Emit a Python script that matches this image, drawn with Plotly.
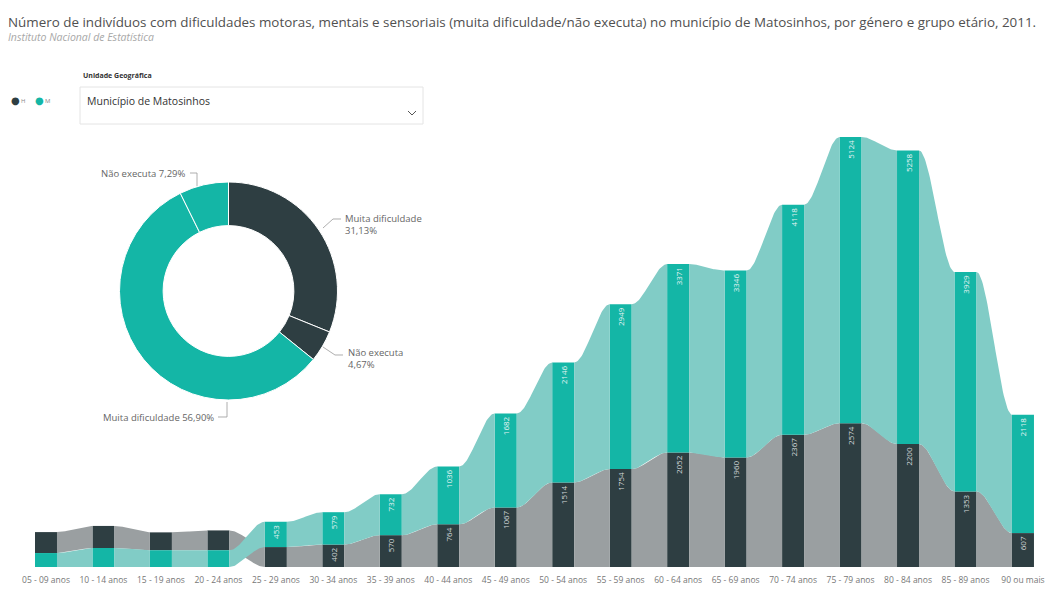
import numpy as np
import plotly.graph_objects as go

# Age groups and counts (muita dificuldade / não executa), Matosinhos 2011
grupos = ["05 - 09 anos", "10 - 14 anos", "15 - 19 anos", "20 - 24 anos", "25 - 29 anos",
          "30 - 34 anos", "35 - 39 anos", "40 - 44 anos", "45 - 49 anos", "50 - 54 anos",
          "55 - 59 anos", "60 - 64 anos", "65 - 69 anos", "70 - 74 anos", "75 - 79 anos",
          "80 - 84 anos", "85 - 89 anos", "90 ou mais"]
homens = [375, 395, 320, 355, 357, 402, 570, 764, 1067, 1514, 1754, 2052, 1960, 2367, 2574, 2200, 1353, 607]
mulheres = [250, 340, 300, 300, 453, 579, 732, 1036, 1682, 2146, 2949, 3371, 3346, 4118, 5124, 5258, 3929, 2118]

# Donut: share by gender and type of difficulty
fatias = ["Muita dificuldade (H)", "Não executa (H)", "Muita dificuldade (M)", "Não executa (M)"]
percentagens = [31.13, 4.67, 56.90, 7.29]

DARK = "#2E3E42"
TEAL = "#14B6A6"
DARK_RIB = "#9A9FA1"
TEAL_RIB = "#81CCC6"

W, H = 1049, 590
M_T, M_B = 130, 23
PLOT_H = H - M_T - M_B

x = np.arange(len(grupos))
bar_w = 0.383
series = {"H": np.array(homens, float), "M": np.array(mulheres, float)}
colors = {"H": (DARK, DARK_RIB), "M": (TEAL, TEAL_RIB)}

# Ribbon ordering: the larger value sits on top in each age group
base = {k: np.zeros(len(grupos)) for k in series}
for i in range(len(grupos)):
    order = sorted(series, key=lambda k: series[k][i])
    acc = 0.0
    for k in order:
        base[k][i] = acc
        acc += series[k][i]

fig = go.Figure()

# Ribbons between consecutive bars
u = np.linspace(0, 1, 40)
s = u * u * (3 - 2 * u)
for k in ["H", "M"]:
    lo, hi = base[k], base[k] + series[k]
    for i in range(len(grupos) - 1):
        x0, x1 = x[i] + bar_w / 2, x[i + 1] - bar_w / 2
        xs = x0 + (x1 - x0) * u
        top = hi[i] + (hi[i + 1] - hi[i]) * s
        bot = lo[i] + (lo[i + 1] - lo[i]) * s
        fig.add_trace(go.Scatter(
            x=np.concatenate([xs, xs[::-1]]),
            y=np.concatenate([top, bot[::-1]]),
            fill="toself", fillcolor=colors[k][1], mode="lines",
            line=dict(width=0), hoverinfo="skip", showlegend=False))

# Bars with vertical value labels
for k in ["H", "M"]:
    vals = series[k]
    txt = [f"{int(v)}" if v >= 400 else "" for v in vals]
    fig.add_trace(go.Bar(
        x=x, y=vals, base=base[k], width=bar_w,
        marker=dict(color=colors[k][0], line=dict(width=0)),
        text=txt, textposition="inside", insidetextanchor="end",
        textangle=-90, cliponaxis=False,
        textfont=dict(size=8, color="#E8F4F3" if k == "M" else "#D5DADB", family="Open Sans"),
        showlegend=False, hoverinfo="skip"))


def px_x(p):
    return p / W


def px_y(p):
    return (H - M_B - p) / PLOT_H


# Donut
cx, cy, r = 228.5, 291, 109
fig.add_trace(go.Pie(
    labels=fatias, values=percentagens, sort=False, direction="clockwise",
    hole=0.6, textinfo="none", hoverinfo="skip", showlegend=False,
    marker=dict(colors=[DARK, DARK, TEAL, TEAL], line=dict(color="white", width=1)),
    domain=dict(x=[px_x(cx - r), px_x(cx + r)], y=[px_y(cy + r), px_y(cy - r)])))


def pct(v):
    return f"{v:.2f}".replace(".", ",") + "%"


def note(px, py, text, font, xanchor="left", align="left"):
    return dict(x=px_x(px), y=px_y(py), xref="paper", yref="paper", text=text,
                xanchor=xanchor, yanchor="middle", showarrow=False, font=font, align=align)


annotations = []
shapes = []
LBL = dict(family="Open Sans", size=9.5, color="#666")

annotations += [
    note(188, 173, "Não executa " + pct(percentagens[3]), LBL, "right"),
    note(343, 224, "Muita dificuldade<br>" + pct(percentagens[0]), LBL),
    note(346, 358, "Não executa<br>" + pct(percentagens[1]), LBL),
    note(216, 417, "Muita dificuldade " + pct(percentagens[2]), LBL, "right"),
]
leaders = [
    [(190, 173), (197, 173), (197, 186)],
    [(341, 219), (333, 219), (323, 228)],
    [(343, 355), (335, 355), (323, 347)],
    [(218, 417), (227, 417), (227, 402)],
]
for pts in leaders:
    path = "M " + " L ".join(f"{px_x(a):.5f},{px_y(b):.5f}" for a, b in pts)
    shapes.append(dict(type="path", path=path, xref="paper", yref="paper",
                       line=dict(color="#999", width=0.8)))

# Header
annotations += [
    note(6, 22, "Número de indivíduos com dificuldades motoras, mentais e sensoriais (muita dificuldade/não executa) "
                "no município de Matosinhos, por género e grupo etário, 2011.",
         dict(family="Open Sans", size=13.4, color="#505050")),
    note(6, 37, "<i>Instituto Nacional de Estatística</i>",
         dict(family="Open Sans", size=10.5, color="#A8A8A8")),
]

# Series key: coloured dots with short labels
annotations += [
    note(9, 100, "●", dict(family="DejaVu Sans", size=10, color=DARK)),
    note(19, 101, "H", dict(family="Open Sans", size=6, color="#888")),
    note(33, 100, "●", dict(family="DejaVu Sans", size=10, color=TEAL)),
    note(43, 101, "M", dict(family="Open Sans", size=6, color="#888")),
]

# Slicer box
annotations += [
    note(81, 75, "<b>Unidade Geográfica</b>", dict(family="Open Sans", size=7, color="#333")),
    note(85, 101, "Município de Matosinhos", dict(family="Open Sans", size=10.5, color="#333")),
]
shapes.append(dict(type="rect", xref="paper", yref="paper",
                   x0=px_x(80), x1=px_x(423), y0=px_y(124), y1=px_y(87),
                   line=dict(color="#E4E4E4", width=1), fillcolor="rgba(0,0,0,0)"))
shapes.append(dict(type="path", xref="paper", yref="paper",
                   path=f"M {px_x(408):.5f},{px_y(111):.5f} L {px_x(412):.5f},{px_y(115):.5f} "
                        f"L {px_x(416):.5f},{px_y(111):.5f}",
                   line=dict(color="#555", width=1)))

fig.update_layout(
    width=W, height=H,
    margin=dict(l=0, r=0, t=M_T, b=M_B),
    paper_bgcolor="white", plot_bgcolor="white",
    barmode="overlay",
    xaxis=dict(range=[-0.8, -0.8 + W / 57.47], tickvals=x, ticktext=grupos,
               tickfont=dict(family="Open Sans", size=8.5, color="#777"),
               ticklabelstandoff=6,
               showgrid=False, zeroline=False, showline=False, ticks="", fixedrange=True),
    yaxis=dict(range=[0, PLOT_H / 0.05586], visible=False, fixedrange=True),
    annotations=annotations, shapes=shapes,
    uniformtext=dict(minsize=8, mode="hide"),
)

fig.write_html("out.html", config={"displayModeBar": False})
